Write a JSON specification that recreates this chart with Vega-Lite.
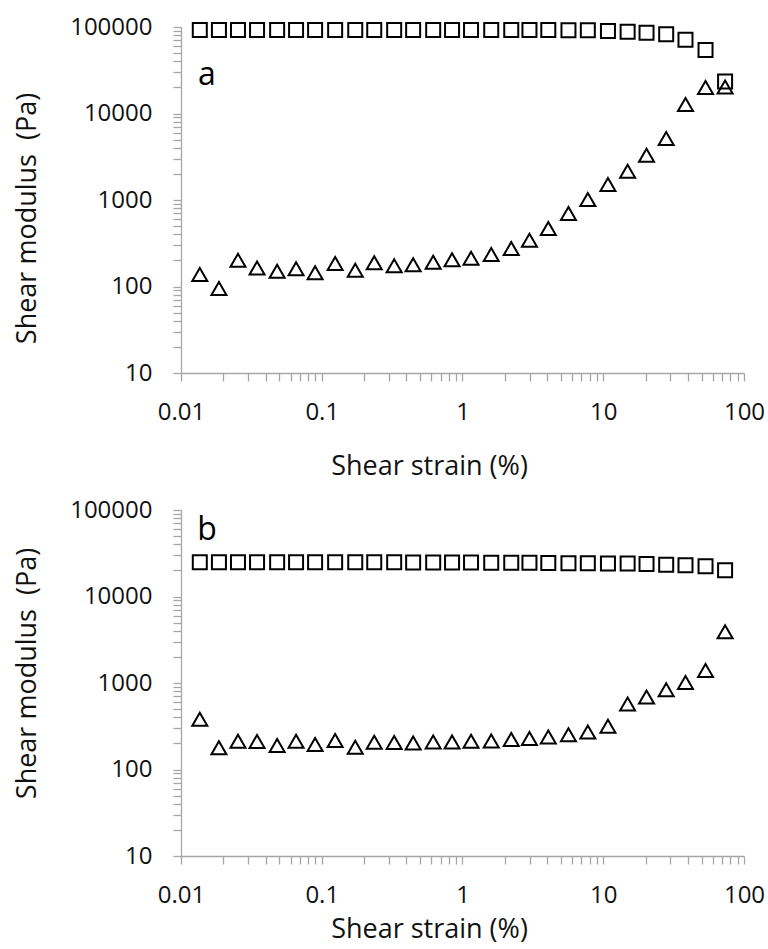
{
  "$schema": "https://vega.github.io/schema/vega-lite/v6.json",
  "padding": {"left": 12, "top": 15, "right": 0, "bottom": 0},
  "spacing": 19,
  "config": {
    "view": {"stroke": null},
    "font": "Open Sans",
    "axis": {
      "domainColor": "#a6a6a6",
      "tickColor": "#a6a6a6",
      "domainWidth": 1.3,
      "tickWidth": 1.3,
      "tickSize": 8,
      "grid": false,
      "labelFont": "Open Sans",
      "labelFontSize": 24,
      "labelColor": "#111111",
      "titleFont": "Open Sans",
      "titleFontSize": 27,
      "titleFontWeight": "normal",
      "titleColor": "#111111",
      "labelOverlap": false,
      "labelFlush": false,
      "labelBound": false
    }
  },
  "datasets": {
    "pts": [
      {"panel": "a", "kind": "G'", "strain": 0.0136, "modulus": 92300},
      {"panel": "a", "kind": "G'", "strain": 0.0186, "modulus": 92300},
      {"panel": "a", "kind": "G'", "strain": 0.0254, "modulus": 92300},
      {"panel": "a", "kind": "G'", "strain": 0.0347, "modulus": 92300},
      {"panel": "a", "kind": "G'", "strain": 0.0482, "modulus": 92300},
      {"panel": "a", "kind": "G'", "strain": 0.0657, "modulus": 92300},
      {"panel": "a", "kind": "G'", "strain": 0.0897, "modulus": 92300},
      {"panel": "a", "kind": "G'", "strain": 0.1245, "modulus": 92300},
      {"panel": "a", "kind": "G'", "strain": 0.173, "modulus": 92300},
      {"panel": "a", "kind": "G'", "strain": 0.236, "modulus": 92300},
      {"panel": "a", "kind": "G'", "strain": 0.327, "modulus": 92300},
      {"panel": "a", "kind": "G'", "strain": 0.446, "modulus": 92300},
      {"panel": "a", "kind": "G'", "strain": 0.619, "modulus": 92300},
      {"panel": "a", "kind": "G'", "strain": 0.843, "modulus": 92300},
      {"panel": "a", "kind": "G'", "strain": 1.15, "modulus": 92300},
      {"panel": "a", "kind": "G'", "strain": 1.6, "modulus": 92300},
      {"panel": "a", "kind": "G'", "strain": 2.22, "modulus": 92300},
      {"panel": "a", "kind": "G'", "strain": 2.99, "modulus": 92300},
      {"panel": "a", "kind": "G'", "strain": 4.07, "modulus": 92300},
      {"panel": "a", "kind": "G'", "strain": 5.66, "modulus": 92000},
      {"panel": "a", "kind": "G'", "strain": 7.77, "modulus": 91500},
      {"panel": "a", "kind": "G'", "strain": 10.8, "modulus": 90000},
      {"panel": "a", "kind": "G'", "strain": 14.9, "modulus": 88200},
      {"panel": "a", "kind": "G'", "strain": 20.3, "modulus": 86000},
      {"panel": "a", "kind": "G'", "strain": 28.0, "modulus": 82300},
      {"panel": "a", "kind": "G'", "strain": 38.4, "modulus": 71300},
      {"panel": "a", "kind": "G'", "strain": 53.3, "modulus": 54200},
      {"panel": "a", "kind": "G'", "strain": 73.4, "modulus": 23400},
      {"panel": "a", "kind": "G''", "strain": 0.0136, "modulus": 138},
      {"panel": "a", "kind": "G''", "strain": 0.0186, "modulus": 95},
      {"panel": "a", "kind": "G''", "strain": 0.0254, "modulus": 201},
      {"panel": "a", "kind": "G''", "strain": 0.0347, "modulus": 164},
      {"panel": "a", "kind": "G''", "strain": 0.0482, "modulus": 150},
      {"panel": "a", "kind": "G''", "strain": 0.0657, "modulus": 160},
      {"panel": "a", "kind": "G''", "strain": 0.0897, "modulus": 144},
      {"panel": "a", "kind": "G''", "strain": 0.1245, "modulus": 184},
      {"panel": "a", "kind": "G''", "strain": 0.173, "modulus": 154},
      {"panel": "a", "kind": "G''", "strain": 0.236, "modulus": 188},
      {"panel": "a", "kind": "G''", "strain": 0.327, "modulus": 174},
      {"panel": "a", "kind": "G''", "strain": 0.446, "modulus": 178},
      {"panel": "a", "kind": "G''", "strain": 0.619, "modulus": 191},
      {"panel": "a", "kind": "G''", "strain": 0.843, "modulus": 204},
      {"panel": "a", "kind": "G''", "strain": 1.15, "modulus": 212},
      {"panel": "a", "kind": "G''", "strain": 1.6, "modulus": 234},
      {"panel": "a", "kind": "G''", "strain": 2.22, "modulus": 275},
      {"panel": "a", "kind": "G''", "strain": 2.99, "modulus": 343},
      {"panel": "a", "kind": "G''", "strain": 4.07, "modulus": 469},
      {"panel": "a", "kind": "G''", "strain": 5.66, "modulus": 698},
      {"panel": "a", "kind": "G''", "strain": 7.77, "modulus": 1014},
      {"panel": "a", "kind": "G''", "strain": 10.8, "modulus": 1510},
      {"panel": "a", "kind": "G''", "strain": 14.9, "modulus": 2150},
      {"panel": "a", "kind": "G''", "strain": 20.3, "modulus": 3300},
      {"panel": "a", "kind": "G''", "strain": 28.0, "modulus": 5140},
      {"panel": "a", "kind": "G''", "strain": 38.4, "modulus": 12700},
      {"panel": "a", "kind": "G''", "strain": 53.3, "modulus": 20000},
      {"panel": "a", "kind": "G''", "strain": 73.4, "modulus": 20300},
      {"panel": "b", "kind": "G'", "strain": 0.0136, "modulus": 24900},
      {"panel": "b", "kind": "G'", "strain": 0.0186, "modulus": 24900},
      {"panel": "b", "kind": "G'", "strain": 0.0254, "modulus": 24900},
      {"panel": "b", "kind": "G'", "strain": 0.0347, "modulus": 24900},
      {"panel": "b", "kind": "G'", "strain": 0.0482, "modulus": 24900},
      {"panel": "b", "kind": "G'", "strain": 0.0657, "modulus": 24900},
      {"panel": "b", "kind": "G'", "strain": 0.0897, "modulus": 24900},
      {"panel": "b", "kind": "G'", "strain": 0.1245, "modulus": 24900},
      {"panel": "b", "kind": "G'", "strain": 0.173, "modulus": 24900},
      {"panel": "b", "kind": "G'", "strain": 0.236, "modulus": 24900},
      {"panel": "b", "kind": "G'", "strain": 0.327, "modulus": 24900},
      {"panel": "b", "kind": "G'", "strain": 0.446, "modulus": 24800},
      {"panel": "b", "kind": "G'", "strain": 0.619, "modulus": 24800},
      {"panel": "b", "kind": "G'", "strain": 0.843, "modulus": 24700},
      {"panel": "b", "kind": "G'", "strain": 1.15, "modulus": 24700},
      {"panel": "b", "kind": "G'", "strain": 1.6, "modulus": 24600},
      {"panel": "b", "kind": "G'", "strain": 2.22, "modulus": 24600},
      {"panel": "b", "kind": "G'", "strain": 2.99, "modulus": 24500},
      {"panel": "b", "kind": "G'", "strain": 4.07, "modulus": 24400},
      {"panel": "b", "kind": "G'", "strain": 5.66, "modulus": 24300},
      {"panel": "b", "kind": "G'", "strain": 7.77, "modulus": 24200},
      {"panel": "b", "kind": "G'", "strain": 10.8, "modulus": 24100},
      {"panel": "b", "kind": "G'", "strain": 14.9, "modulus": 24000},
      {"panel": "b", "kind": "G'", "strain": 20.3, "modulus": 23800},
      {"panel": "b", "kind": "G'", "strain": 28.0, "modulus": 23300},
      {"panel": "b", "kind": "G'", "strain": 38.4, "modulus": 23000},
      {"panel": "b", "kind": "G'", "strain": 53.3, "modulus": 22300},
      {"panel": "b", "kind": "G'", "strain": 73.4, "modulus": 20100},
      {"panel": "b", "kind": "G''", "strain": 0.0136, "modulus": 381},
      {"panel": "b", "kind": "G''", "strain": 0.0186, "modulus": 178},
      {"panel": "b", "kind": "G''", "strain": 0.0254, "modulus": 212},
      {"panel": "b", "kind": "G''", "strain": 0.0347, "modulus": 211},
      {"panel": "b", "kind": "G''", "strain": 0.0482, "modulus": 190},
      {"panel": "b", "kind": "G''", "strain": 0.0657, "modulus": 212},
      {"panel": "b", "kind": "G''", "strain": 0.0897, "modulus": 194},
      {"panel": "b", "kind": "G''", "strain": 0.1245, "modulus": 216},
      {"panel": "b", "kind": "G''", "strain": 0.173, "modulus": 181},
      {"panel": "b", "kind": "G''", "strain": 0.236, "modulus": 206},
      {"panel": "b", "kind": "G''", "strain": 0.327, "modulus": 205},
      {"panel": "b", "kind": "G''", "strain": 0.446, "modulus": 203},
      {"panel": "b", "kind": "G''", "strain": 0.619, "modulus": 208},
      {"panel": "b", "kind": "G''", "strain": 0.843, "modulus": 208},
      {"panel": "b", "kind": "G''", "strain": 1.15, "modulus": 212},
      {"panel": "b", "kind": "G''", "strain": 1.6, "modulus": 214},
      {"panel": "b", "kind": "G''", "strain": 2.22, "modulus": 222},
      {"panel": "b", "kind": "G''", "strain": 2.99, "modulus": 228},
      {"panel": "b", "kind": "G''", "strain": 4.07, "modulus": 238},
      {"panel": "b", "kind": "G''", "strain": 5.66, "modulus": 253},
      {"panel": "b", "kind": "G''", "strain": 7.77, "modulus": 272},
      {"panel": "b", "kind": "G''", "strain": 10.8, "modulus": 316},
      {"panel": "b", "kind": "G''", "strain": 14.9, "modulus": 572},
      {"panel": "b", "kind": "G''", "strain": 20.3, "modulus": 690},
      {"panel": "b", "kind": "G''", "strain": 28.0, "modulus": 838},
      {"panel": "b", "kind": "G''", "strain": 38.4, "modulus": 1015},
      {"panel": "b", "kind": "G''", "strain": 53.3, "modulus": 1397},
      {"panel": "b", "kind": "G''", "strain": 73.4, "modulus": 3910}
    ],
    "tags": [
      {"panel": "a", "label": "a", "strain": 0.0153, "modulus": 21300},
      {"panel": "b", "label": "b", "strain": 0.0153, "modulus": 45400}
    ]
  },
  "vconcat": [
    {
      "width": 563,
      "height": 346,
      "layer": [
        {
          "data": {"name": "pts"},
          "transform": [{"filter": "datum.panel === 'a'"}],
          "mark": {"type": "point", "filled": false, "strokeWidth": 2, "color": "#000000", "opacity": 1},
          "encoding": {
            "x": {"field": "strain", "type": "quantitative", "scale": {"type": "log", "domain": [0.01, 100], "nice": false},
              "axis": {"title": "Shear strain (%)", "titleX": 248, "titleY": 101, "titleBaseline": "alphabetic", "titleAnchor": "middle", "titleAlign": "center", "labelPadding": 19,
                "values": [0.01,0.02,0.03,0.04,0.05,0.06,0.07,0.08,0.09,0.1,0.2,0.3,0.4,0.5,0.6,0.7,0.8,0.9,1,2,3,4,5,6,7,8,9,10,20,30,40,50,60,70,80,90,100],
                "labelExpr": "indexof([0.01,0.1,1,10,100], datum.value) >= 0 ? format(datum.value, '~g') : ''"}},
            "y": {"field": "modulus", "type": "quantitative", "scale": {"type": "log", "domain": [10, 100000], "nice": false},
              "axis": {"title": "Shear modulus\u00a0 (Pa)", "titleX": -146, "titleY": 191, "titleAngle": -90, "titleBaseline": "alphabetic", "titleAlign": "center", "labelPadding": 21,
                "values": [10,20,30,40,50,60,70,80,90,100,200,300,400,500,600,700,800,900,1000,2000,3000,4000,5000,6000,7000,8000,9000,10000,20000,30000,40000,50000,60000,70000,80000,90000,100000],
                "labelExpr": "indexof([10,100,1000,10000,100000], datum.value) >= 0 ? format(datum.value, '~g') : ''"}},
            "shape": {"field": "kind", "type": "nominal", "scale": {"domain": ["G'", "G''"], "range": ["square", "triangle-up"]}, "legend": null},
            "size": {"field": "kind", "type": "nominal", "scale": {"domain": ["G'", "G''"], "range": [196, 225]}, "legend": null}
          }
        },
        {
          "data": {"name": "tags"},
          "transform": [{"filter": "datum.panel === 'a'"}],
          "mark": {"type": "text", "font": "Open Sans", "fontSize": 32, "align": "center", "baseline": "alphabetic", "color": "#000000"},
          "encoding": {
            "x": {"field": "strain", "type": "quantitative"},
            "y": {"field": "modulus", "type": "quantitative"},
            "text": {"field": "label"}
          }
        }
      ]
    },
    {
      "width": 563,
      "height": 346,
      "layer": [
        {
          "data": {"name": "pts"},
          "transform": [{"filter": "datum.panel === 'b'"}],
          "mark": {"type": "point", "filled": false, "strokeWidth": 2, "color": "#000000", "opacity": 1},
          "encoding": {
            "x": {"field": "strain", "type": "quantitative", "scale": {"type": "log", "domain": [0.01, 100], "nice": false},
              "axis": {"title": "Shear strain (%)", "titleX": 248, "titleY": 81, "titleBaseline": "alphabetic", "titleAnchor": "middle", "titleAlign": "center", "labelPadding": 19,
                "values": [0.01,0.02,0.03,0.04,0.05,0.06,0.07,0.08,0.09,0.1,0.2,0.3,0.4,0.5,0.6,0.7,0.8,0.9,1,2,3,4,5,6,7,8,9,10,20,30,40,50,60,70,80,90,100],
                "labelExpr": "indexof([0.01,0.1,1,10,100], datum.value) >= 0 ? format(datum.value, '~g') : ''"}},
            "y": {"field": "modulus", "type": "quantitative", "scale": {"type": "log", "domain": [10, 100000], "nice": false},
              "axis": {"title": "Shear modulus\u00a0 (Pa)", "titleX": -146, "titleY": 163, "titleAngle": -90, "titleBaseline": "alphabetic", "titleAlign": "center", "labelPadding": 21,
                "values": [10,20,30,40,50,60,70,80,90,100,200,300,400,500,600,700,800,900,1000,2000,3000,4000,5000,6000,7000,8000,9000,10000,20000,30000,40000,50000,60000,70000,80000,90000,100000],
                "labelExpr": "indexof([10,100,1000,10000,100000], datum.value) >= 0 ? format(datum.value, '~g') : ''"}},
            "shape": {"field": "kind", "type": "nominal", "scale": {"domain": ["G'", "G''"], "range": ["square", "triangle-up"]}, "legend": null},
            "size": {"field": "kind", "type": "nominal", "scale": {"domain": ["G'", "G''"], "range": [196, 225]}, "legend": null}
          }
        },
        {
          "data": {"name": "tags"},
          "transform": [{"filter": "datum.panel === 'b'"}],
          "mark": {"type": "text", "font": "Open Sans", "fontSize": 32, "align": "center", "baseline": "alphabetic", "color": "#000000"},
          "encoding": {
            "x": {"field": "strain", "type": "quantitative"},
            "y": {"field": "modulus", "type": "quantitative"},
            "text": {"field": "label"}
          }
        }
      ]
    }
  ]
}
